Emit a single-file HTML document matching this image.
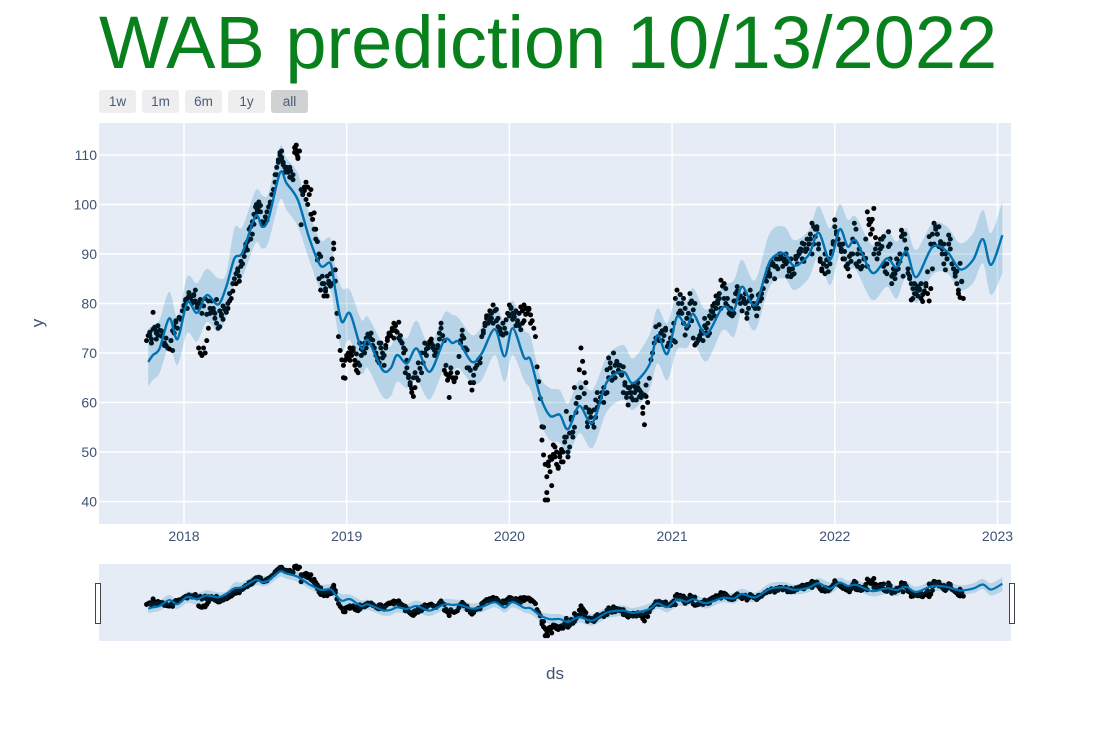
<!DOCTYPE html>
<html>
<head>
<meta charset="utf-8">
<title>WAB prediction</title>
<style>
html,body{margin:0;padding:0;background:#fff;width:1110px;height:740px;overflow:hidden}
svg{display:block;font-family:"Liberation Sans",sans-serif}
.tick{font-size:14px;fill:#3f5272}
.btn-label{font-size:13.5px;fill:#4a5b78;text-anchor:middle}
</style>
</head>
<body>
<svg id="chart" width="1110" height="740" viewBox="0 0 1110 740" xmlns="http://www.w3.org/2000/svg">
  <text x="99" y="68" font-size="74" fill="#08801c">WAB prediction 10/13/2022</text>

  <g>
    <g><rect x="99" y="90" width="37" height="23" rx="3" fill="#eeeeee"/><text class="btn-label" x="117.5" y="106">1w</text></g>
    <g><rect x="142" y="90" width="37" height="23" rx="3" fill="#eeeeee"/><text class="btn-label" x="160.5" y="106">1m</text></g>
    <g><rect x="185" y="90" width="37" height="23" rx="3" fill="#eeeeee"/><text class="btn-label" x="203.5" y="106">6m</text></g>
    <g><rect x="228" y="90" width="37" height="23" rx="3" fill="#eeeeee"/><text class="btn-label" x="246.5" y="106">1y</text></g>
    <g><rect x="271" y="90" width="37" height="23" rx="3" fill="#d0d1d3"/><text class="btn-label" x="289.5" y="106">all</text></g>
  </g>

  <rect x="99" y="123" width="912" height="401" fill="#e5ecf6"/>
  <g id="grid"></g>
  <g id="main"></g>
  <g id="ticks"></g>

  <text transform="translate(43,323) rotate(-90)" text-anchor="middle" font-size="17" fill="#3f5272">y</text>
  <text x="555" y="679" text-anchor="middle" font-size="17" fill="#3f5272">ds</text>

  <rect x="99" y="564" width="912" height="77" fill="#e5ecf6"/>
  <g id="mini"></g>
  <rect x="95.5" y="583.5" width="5" height="40" fill="#fff" stroke="#444" stroke-width="1"/>
  <rect x="1009.5" y="583.5" width="5" height="40" fill="#fff" stroke="#444" stroke-width="1"/>
</svg>

<script>
const xTickYears = [2018, 2019, 2020, 2021, 2022, 2023];
const yTickValues = [40, 50, 60, 70, 80, 90, 100, 110];

const forecastDates = [2017.78,2017.81,2017.85,2017.91,2017.96,2018.02,2018.08,2018.14,2018.21,2018.26,2018.31,2018.36,2018.44,2018.48,2018.52,2018.59,2018.63,2018.70,2018.77,2018.84,2018.90,2018.93,2018.97,2019.02,2019.09,2019.13,2019.22,2019.27,2019.31,2019.37,2019.43,2019.51,2019.60,2019.65,2019.69,2019.77,2019.83,2019.91,2019.97,2020.02,2020.09,2020.13,2020.19,2020.25,2020.31,2020.36,2020.43,2020.51,2020.60,2020.70,2020.76,2020.86,2020.91,2020.97,2021.03,2021.09,2021.13,2021.21,2021.31,2021.38,2021.43,2021.51,2021.60,2021.69,2021.75,2021.84,2021.90,2021.97,2022.03,2022.08,2022.13,2022.23,2022.32,2022.38,2022.44,2022.50,2022.60,2022.69,2022.77,2022.85,2022.91,2022.96,2023.03];
const yhatValues = [68.2,69.6,70.9,77.0,72.8,80.2,78.1,81.7,79.8,83.4,89.1,90.3,97.7,95.5,97.2,106.4,104.3,100.9,93.2,87.6,88.1,82.7,76.3,78.0,70.9,72.6,66.6,66.9,69.6,67.9,70.9,66.2,72.6,72.0,72.2,68.2,69.9,74.8,69.3,75.0,69.1,68.6,61.2,57.3,57.5,54.6,59.3,55.9,64.2,66.2,63.9,67.6,73.6,69.8,77.3,75.3,77.9,73.8,79.2,78.7,83.4,79.7,88.4,90.1,87.6,89.8,94.3,88.8,95.0,91.5,92.7,86.2,89.1,87.3,90.5,85.3,91.4,90.5,86.9,88.8,93.0,87.8,93.8];
const yhatUpper = [74.9,75.7,76.7,82.4,77.3,85.4,84.1,87.0,85.1,86.1,95.2,95.5,102.8,101.9,102.3,111.7,109.3,106.3,98.2,92.8,93.2,87.4,83.1,82.7,76.7,77.3,72.0,71.3,74.0,73.0,76.5,71.6,78.0,77.7,77.0,73.6,75.3,79.7,76.3,80.6,74.7,73.3,65.2,62.9,62.5,59.8,64.5,62.5,69.3,71.6,68.9,73.6,79.0,76.0,82.0,80.5,83.1,78.7,83.4,84.7,88.8,84.7,94.2,95.5,92.8,94.8,99.7,95.2,100.1,96.9,97.5,91.8,94.8,92.5,95.2,90.8,96.2,95.5,92.2,94.2,98.9,94.2,100.6];
const yhatLower = [63.2,64.6,65.9,71.3,67.6,74.0,72.3,76.3,74.3,77.3,84.1,85.4,92.2,91.1,92.5,100.9,98.9,95.5,88.8,82.7,82.7,77.3,70.6,72.6,65.9,66.9,61.2,61.2,64.2,62.9,64.5,60.6,66.9,66.2,66.9,63.9,64.5,69.6,64.2,69.6,64.5,62.5,55.8,52.4,51.8,49.0,53.8,50.8,58.2,60.5,58.5,62.5,67.9,64.5,70.6,71.0,72.5,68.3,74.6,73.3,78.3,74.6,83.4,85.1,82.7,85.1,89.5,83.7,89.8,86.8,86.8,80.7,83.4,81.0,85.4,80.0,85.8,86.1,82.7,84.1,88.1,81.7,86.1];

const actualStartYear = 2017.77;
const actualStepYears = 0.01;
const actualValues = [
72.5,73.5,74.2,72.8,74.8,75.2,74,73.6,74.6,73.4,
74.2,72,71.5,71,70.8,72.5,74.5,75.3,76.2,75,
77.2,76.8,78.5,79.6,80.8,81,82.2,81.2,80,81.6,
80.5,80,71,70,69.5,71,70,72.5,75,78,
80.5,79,78,76,75,78.5,77.5,76.8,79,78.2,
79,80.5,81,82.5,85,84,86.5,85.5,87.5,88,
90.5,92,90.8,93,95.5,94,96,97.5,99,99.6,
98.5,96.5,95.8,96.5,98.5,99.5,100.5,102,103,106,
107.5,109,110.5,109.5,108.5,107.5,107,106.5,107.5,105.5,
106,111.5,110.5,109.5,110.8,95.9,102.5,102.8,104.5,103.5,
102,98,97,95,93,88.8,85,82.7,84,81.5,
83,85.5,84,83.5,89,92.2,86.8,78,73.3,70.5,
68.6,65,68.5,69.5,69,71,69.5,71,68.5,69.8,
66,67.5,69.5,71,70,73,72,73.3,74,72.6,
71,69.5,68.5,72,71,69,67.5,71.5,73,74,
73.5,74.5,76,75.5,74.2,73,73.5,72,71,70.6,
67,65.5,64,62.8,61.2,63,65,64.5,66.9,66,
68,70,70.8,71.5,72.3,72.8,71,70.5,69.5,71.5,
74,76,73.5,72.5,67.5,65.5,61,66,65,64.5,
65,66,69.3,72.5,74.6,73,71,70.6,67,66.5,
62.5,64,66.9,67.5,68.6,68,73.3,74,75.5,77,
77.5,76.5,78,79.7,78.5,76.5,75.3,74.5,74,73.6,
75,76.7,78,79.7,79.2,78,77.3,78.5,76.5,75.5,
74.7,76,79.7,79,78,79,77.7,76.5,75,73.3,
67.2,64.2,60.8,55.1,49.4,40.3,45,47.2,49,43.2,
51.4,49,47.5,46.7,49.7,48,50,53,58.2,50,
53.8,56.5,54,63,59.8,61,66.6,71,68.3,61.8,
59,55.1,58,57,55.8,58.5,60.5,62,60,61,
62,63,61.8,66.6,69,68,64.5,66,67.5,68.3,
67.5,66,65.5,67.2,64,61.8,59.5,63,62,63.5,
63.2,62.5,64,61.2,62,57.8,55.5,61.2,60,64.9,
68.6,70,72,75.3,73,75.7,74,72.5,73.5,74.6,
71.3,72,73,72.6,76,81,82.7,80,78.5,78,
76,73.6,75,78,82,80.5,78.7,71.6,72,72.5,
73,74,74,77,75,73.5,74,77,78.3,77.5,
79,80,81,84.7,83.5,81,80,79.5,78,77.7,
78.5,80.5,82,83.4,81.5,80,78.5,81,80,77,
80.5,82.7,81.5,80,79,77.5,81.7,80.5,82,83,
84.7,85.5,87,85.5,87.8,88,85,87.5,89,90,
89.5,87.5,89,90,88.5,86.5,85.4,87,86,89,
89.5,90.5,91,92.2,88.5,91,93,92,94,96.2,
95.5,95,95.5,92,88.5,86.6,88,90,88.8,86.4,
88,90.5,92.5,96.9,94.5,93,91.8,90.5,89,90.5,
87.5,87,89.5,90,93,96.2,95,90,88.5,87,
87.5,89,89.1,87.5,95.9,94,97,99.2,93.3,92,
90.1,91,93,93.5,86.4,88,94.5,92,84,86,
85,86.8,88,90,94.8,94,92.8,91,86.1,85,
80.7,83,84,82,83.5,82.7,84,80.4,82.5,84,
86.4,93.5,92,94,96.2,95.5,94,91.5,92,90,
92,86.8,89,93.8,91,88,87,86.1,84,82.7,
88.1,84.4,81
];
const extraDates = [2017.80,2017.81,2017.84,2017.89,2017.92,2017.95,2018.02,2018.04,2018.07,2018.09,2018.12,2018.14,2018.15,2018.17,2018.2,2018.22,2018.25,2018.27,2018.32,2018.34,2018.38,2018.41,2018.43,2018.45,2018.46,2018.5,2018.57,2018.6,2018.6,2018.63,2018.65,2018.68,2018.69,2018.7,2018.76,2018.78,2018.80,2018.84,2018.85,2018.87,2018.92,2018.93,2018.98,2018.99,2019.01,2019.04,2019.05,2019.08,2019.1,2019.13,2019.16,2019.18,2019.2,2019.24,2019.3,2019.32,2019.33,2019.37,2019.39,2019.4,2019.41,2019.49,2019.53,2019.55,2019.57,2019.61,2019.63,2019.64,2019.71,2019.76,2019.78,2019.8,2019.82,2019.85,2019.88,2019.9,2019.93,2019.98,2020,2020.02,2020.05,2020.07,2020.1,2020.12,2020.2,2020.21,2020.22,2020.23,2020.235,2020.25,2020.27,2020.28,2020.3,2020.32,2020.34,2020.36,2020.38,2020.4,2020.43,2020.46,2020.47,2020.5,2020.52,2020.55,2020.6,2020.63,2020.64,2020.66,2020.7,2020.73,2020.75,2020.78,2020.8,2020.84,2020.96,2021.0,2021.05,2021.08,2021.1,2021.14,2021.17,2021.2,2021.25,2021.27,2021.33,2021.36,2021.41,2021.45,2021.47,2021.52,2021.55,2021.6,2021.62,2021.66,2021.7,2021.73,2021.77,2021.83,2021.86,2021.88,2021.9,2021.92,2021.95,2022,2022.05,2022.07,2022.09,2022.1,2022.12,2022.15,2022.18,2022.2,2022.22,2022.27,2022.3,2022.33,2022.36,2022.4,2022.42,2022.47,2022.49,2022.51,2022.54,2022.56,2022.58,2022.62,2022.65,2022.67,2022.7,2022.74,2022.76,2022.77,2022.78];
const extraValues = [72,78.2,75.5,73,72.5,76.5,79,81.5,82.7,80,79.5,77.8,80.5,78.2,80.8,75.3,78.8,80,86,84.5,91.5,93,98,98.5,100.5,97.5,106,109,110.8,107.5,105.5,110.5,112,109.3,100,103,98.3,89.5,85.5,82.5,91,84.5,67.5,64.9,70,70.5,67.5,72,70.5,73.8,71.5,70,68,71,74.5,76.2,72.5,68.5,63.5,62,65,69.5,71.5,70,72.8,65.8,65.2,67,73.5,64,65.5,67.5,69,76,78.5,76,77,74,77.5,76.8,76,79.3,77.8,78.8,52.4,55,47.5,41.8,40.3,46,49.5,51,47,50.5,52,49,57,55,61,66,64,58,55,60,62,64.5,70,68,62,63,61,60.5,62.5,63.5,75,74.5,81.8,79,75.5,80,73.5,75.5,79.5,81.5,83,79,81,82,79,80,81,86,88,89,88,89,88,91,90,93.5,91,87,87.5,95.5,92,87.5,85.5,88.5,92.5,91,89,98.5,96.5,92,87.5,91.5,87,88.5,85.5,84,82,81.5,81.8,83.5,80.5,95,92.5,88,92,85.5,82,81.2,84.5];
const denseDates = [2017.79,2017.82,2017.83,2017.86,2017.88,2017.93,2017.94,2017.98,2018.0,2018.01,2018.03,2018.05,2018.06,2018.08,2018.1,2018.11,2018.13,2018.16,2018.18,2018.19,2018.23,2018.24,2018.28,2018.3,2018.33,2018.35,2018.37,2018.39,2018.4,2018.42,2018.44,2018.445,2018.455,2018.47,2018.49,2018.51,2018.53,2018.55,2018.56,2018.58,2018.59,2018.61,2018.62,2018.64,2018.655,2018.67,2018.685,2018.695,2018.72,2018.73,2018.74,2018.75,2018.79,2018.81,2018.82,2018.83,2018.86,2018.88,2018.89,2018.9,2018.91,2019.0,2019.02,2019.03,2019.06,2019.07,2019.09,2019.11,2019.12,2019.14,2019.15,2019.19,2019.21,2019.22,2019.23,2019.25,2019.26,2019.28,2019.29,2019.34,2019.35,2019.36,2019.38,2019.42,2019.44,2019.46,2019.48,2019.5,2019.52,2019.54,2019.56,2019.58,2019.6,2019.62,2019.66,2019.68,2019.7,2019.72,2019.74,2019.84,2019.86,2019.87,2019.89,2019.92,2019.94,2019.95,2019.96,2019.99,2020.01,2020.03,2020.04,2020.06,2020.08,2020.09,2020.11,2020.13,2020.24,2020.26,2020.29,2020.31,2020.33,2020.35,2020.37,2020.39,2020.41,2020.42,2020.44,2020.48,2020.49,2020.53,2020.54,2020.56,2020.58,2020.61,2020.62,2020.65,2020.67,2020.68,2020.69,2020.71,2020.72,2020.74,2020.76,2020.77,2020.79,2020.81,2020.82,2020.83,2020.9,2020.92,2020.94,2020.98,2020.99,2021.01,2021.02,2021.04,2021.06,2021.07,2021.09,2021.11,2021.12,2021.13,2021.15,2021.16,2021.18,2021.19,2021.21,2021.22,2021.23,2021.24,2021.26,2021.28,2021.29,2021.3,2021.32,2021.34,2021.35,2021.37,2021.38,2021.39,2021.4,2021.42,2021.44,2021.46,2021.48,2021.5,2021.53,2021.54,2021.56,2021.58,2021.59,2021.61,2021.63,2021.64,2021.65,2021.67,2021.68,2021.69,2021.71,2021.72,2021.74,2021.76,2021.78,2021.79,2021.8,2021.81,2021.82,2021.84,2021.85,2021.87,2021.89,2021.91,2021.93,2021.94,2021.96,2021.98,2021.99,2022.01,2022.02,2022.03,2022.04,2022.06,2022.08,2022.11,2022.13,2022.14,2022.16,2022.17,2022.19,2022.21,2022.23,2022.24,2022.25,2022.26,2022.28,2022.29,2022.31,2022.32,2022.34,2022.35,2022.37,2022.38,2022.39,2022.41,2022.43,2022.44,2022.45,2022.46,2022.48,2022.5,2022.52,2022.53,2022.55,2022.57,2022.59,2022.6,2022.61,2022.63,2022.64,2022.66,2022.68,2022.69,2022.71,2022.72,2022.73,2022.75];
const denseValues = [73.5,74.8,72.8,74.5,71.5,70.5,74,77,79.5,80.5,81.5,80.5,81.8,79.2,80.8,78,81,79,78.5,77,77.8,79.5,82,84,87,88.5,89.5,92.5,95,96.5,99.5,100,99,99.8,96,96.8,100,103,104.5,108.5,110,108,106.5,107,106.8,105,111.2,110,103,102,103.5,101,97,95,92.5,90,84,81.5,84.5,86,84,69,68.5,70.2,66.5,68,70.8,72,71,73,72.8,69,72,70,69.5,72.5,73.5,75,73,72,70,66,65,66,68,70,72,71,72,69.5,71,75,66.5,64.5,64.2,66,72,71,67,74.5,77.5,76,77,78.8,75,73.8,76,78,79,78,75.5,78,78.5,76.5,79,76,48,48.5,50,49,48,53,51,53,58,61,63,56,58.5,57,59,61,60,65,67,65,66.5,67.5,66,63.5,61,62,60.5,62,63,61,59,61.5,73,72.5,74.5,72,71.5,72.5,72.2,78,80,81,77,80,76.5,73,72,72.8,74.5,72.5,74,76,77.5,78.5,80,80.5,82,79,84,81,79,77.5,78,80.5,82.5,81.5,80.5,78,81,79.5,79,82,83,84.5,86.5,88.5,87.5,89,87,90,89,88.5,85.5,87,85.8,89.5,90,90.5,89,92,90.5,92,93,92,95,89,88,86,89,90,92,94,93,92,91,89,88,90,88,87.5,87,90,93,97,95,90,91,89,93,91.5,88,86,89,85.5,86,89,87,93.5,94,90,87,85.5,81,83,83,81,82.5,82,83,87,92,94,95.5,91,90,89,93,88,87,86.5];

const xDomain = [2017.4776, 2023.083];
const xRange = [99, 1011];
const yDomainMain = [35.45, 116.46];
const yRangeMain = [524, 123];
const yDomainMini = [34.9, 114.1];
const yRangeMini = [641, 564];

const SVGNS = 'http://www.w3.org/2000/svg';
function xScale(year){
  return xRange[0] + (year - xDomain[0]) / (xDomain[1] - xDomain[0]) * (xRange[1] - xRange[0]);
}
function makeYScale(domain, range){
  return function(v){
    return range[0] + (v - domain[0]) / (domain[1] - domain[0]) * (range[1] - range[0]);
  };
}
const yMain = makeYScale(yDomainMain, yRangeMain);
const yMini = makeYScale(yDomainMini, yRangeMini);

function smoothSegments(pts, startCmd){
  let d = startCmd + pts[0][0].toFixed(2) + ' ' + pts[0][1].toFixed(2);
  for (let i = 0; i < pts.length - 1; i++){
    const p0 = pts[Math.max(i - 1, 0)], p1 = pts[i], p2 = pts[i + 1], p3 = pts[Math.min(i + 2, pts.length - 1)];
    const t = 0.16;
    const c1x = p1[0] + (p2[0] - p0[0]) * t, c1y = p1[1] + (p2[1] - p0[1]) * t;
    const c2x = p2[0] - (p3[0] - p1[0]) * t, c2y = p2[1] - (p3[1] - p1[1]) * t;
    d += ' C' + c1x.toFixed(2) + ' ' + c1y.toFixed(2) + ' ' + c2x.toFixed(2) + ' ' + c2y.toFixed(2) + ' ' + p2[0].toFixed(2) + ' ' + p2[1].toFixed(2);
  }
  return d;
}

function drawSeries(parent, yScale, radius, lineWidth){
  const dots = document.createElementNS(SVGNS, 'g');
  
  
  parent.appendChild(dots);

  function addDot(year, value){
    if (value === undefined) return;
    const c = document.createElementNS(SVGNS, 'circle');
    
    
    c.setAttribute('cx', xScale(year).toFixed(2));
    c.setAttribute('cy', yScale(value).toFixed(2));
    c.setAttribute('r', radius);
    c.setAttribute('fill', '#000');
    dots.appendChild(c);
  }
  actualValues.forEach(function(v, i){ addDot(actualStartYear + i * actualStepYears, v); });
  extraDates.forEach(function(d, i){ addDot(d, extraValues[i]); });
  denseDates.forEach(function(d, i){ addDot(d, denseValues[i]); });

  const upperPts = forecastDates.map(function(d, i){ return [xScale(d), yScale(yhatUpper[i])]; });
  const lowerPts = forecastDates.map(function(d, i){ return [xScale(d), yScale(yhatLower[i])]; }).reverse();
  const band = document.createElementNS(SVGNS, 'path');
  
  
  band.setAttribute('d', smoothSegments(upperPts, 'M') + ' ' + smoothSegments(lowerPts, 'L') + ' Z');
  band.setAttribute('fill', 'rgba(0,114,178,0.2)');
  parent.appendChild(band);

  const linePts = forecastDates.map(function(d, i){ return [xScale(d), yScale(yhatValues[i])]; });
  const line = document.createElementNS(SVGNS, 'path');
  
  
  line.setAttribute('d', smoothSegments(linePts, 'M'));
  line.setAttribute('fill', 'none');
  line.setAttribute('stroke', '#0072B2');
  line.setAttribute('stroke-width', lineWidth);
  line.setAttribute('stroke-linejoin', 'round');
  parent.appendChild(line);
}

const gridGroup = document.getElementById('grid');
const tickGroup = document.getElementById('ticks');

yTickValues.forEach(function(v){
  const l = document.createElementNS(SVGNS, 'line');
  
  
  l.setAttribute('x1', xRange[0]);
  l.setAttribute('x2', xRange[1]);
  l.setAttribute('y1', yMain(v));
  l.setAttribute('y2', yMain(v));
  l.setAttribute('stroke', '#fff');
  l.setAttribute('stroke-width', '1.5');
  gridGroup.appendChild(l);

  const t = document.createElementNS(SVGNS, 'text');
  
  
  t.setAttribute('class', 'tick');
  t.setAttribute('x', 97);
  t.setAttribute('y', yMain(v) + 5);
  t.setAttribute('text-anchor', 'end');
  t.textContent = v;
  tickGroup.appendChild(t);
});

xTickYears.forEach(function(y){
  const l = document.createElementNS(SVGNS, 'line');
  
  
  l.setAttribute('x1', xScale(y));
  l.setAttribute('x2', xScale(y));
  l.setAttribute('y1', yRangeMain[1]);
  l.setAttribute('y2', yRangeMain[0]);
  l.setAttribute('stroke', '#fff');
  l.setAttribute('stroke-width', '1.5');
  gridGroup.appendChild(l);

  const t = document.createElementNS(SVGNS, 'text');
  
  
  t.setAttribute('class', 'tick');
  t.setAttribute('x', xScale(y));
  t.setAttribute('y', 541);
  t.setAttribute('text-anchor', 'middle');
  t.textContent = y;
  tickGroup.appendChild(t);
});

drawSeries(document.getElementById('main'), yMain, 2.5, 2.4);
drawSeries(document.getElementById('mini'), yMini, 2.5, 2.2);
</script>
</body>
</html>
